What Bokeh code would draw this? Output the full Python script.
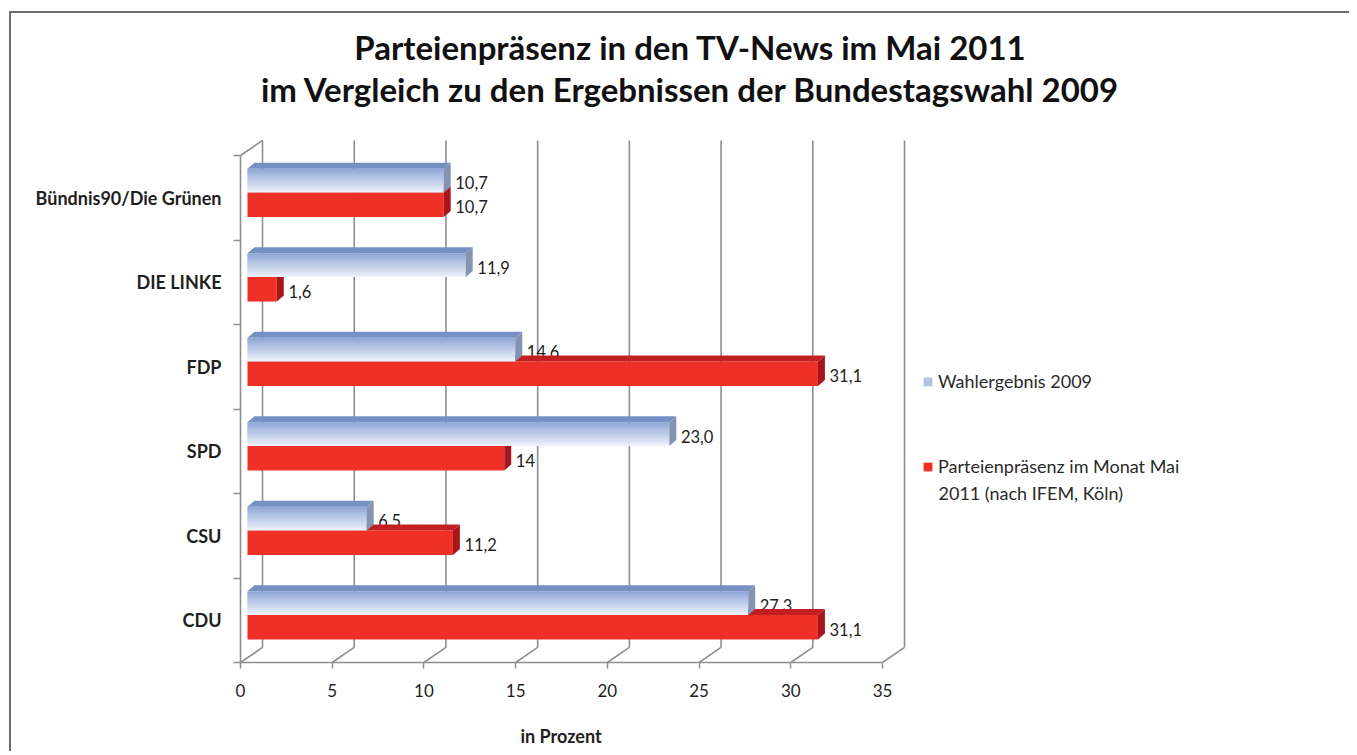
from bokeh.plotting import figure
from bokeh.models import Range1d, FixedTicker, Legend, LegendItem, ColumnDataSource, Label, Title
from bokeh.embed import file_html
from bokeh.resources import INLINE
from bokeh.core.properties import value

# ---------------- data ----------------
categories = ["CDU", "CSU", "SPD", "FDP", "DIE LINKE", "Bündnis90/Die Grünen"]
wahl_2009 = [27.3, 6.5, 23.0, 14.6, 11.9, 10.7]
praesenz_2011 = [31.1, 11.2, 14, 31.1, 1.6, 10.7]
wahl_labels = ["27,3", "6,5", "23,0", "14,6", "11,9", "10,7"]
praesenz_labels = ["31,1", "11,2", "14", "31,1", "1,6", "10,7"]
x_ticks = [0, 5, 10, 15, 20, 25, 30, 35]
title_lines = ["Parteienpräsenz in den TV-News im Mai 2011",
               "im Vergleich zu den Ergebnissen der Bundestagswahl 2009"]
x_title = "in Prozent"
legend_labels = ["Wahlergebnis 2009", "Parteienpräsenz im Monat Mai", "2011 (nach IFEM, Köln)"]

# ---------------- style / geometry ----------------
FONT = "Lato"
TXT = "#1e1e1e"
GRID = "#8e8e8e"
PX_X = 18.343          # px per percent
PX_Y = 84.5            # px per category band
W, H = 1340, 740
LEFT, TOP = 229, 1
FRAME_W = W - LEFT - 2
FRAME_H = 648
X_END = FRAME_W / PX_X
Y_END = FRAME_H / PX_Y
DEPTH_X, DEPTH_Y = 1.2, 0.178
BAR_DX, BAR_DY = 0.38, 0.071
RED_BOT, RED_TOP = 0.272, 0.562
BLUE_BOT, BLUE_TOP = 0.562, 0.842

def px_to_x(px):   # page px -> data x (frame left at page 240)
    return (px - 240) / PX_X

def px_to_y(py):   # page py -> data y (floor at page 662)
    return (662 - py) / PX_Y

p = figure(width=W, height=H, output_backend="svg", toolbar_location=None, title=None,
           x_range=Range1d(0, X_END), y_range=Range1d(0, Y_END),
           min_border_left=LEFT, min_border_right=2,
           min_border_top=TOP, min_border_bottom=H - TOP - FRAME_H,
           background_fill_color="white", border_fill_color="white")
p.margin = (11, 0, 0, 9)
p.styles = {"border-left": "2px solid #6e6e6e", "border-top": "2px solid #6e6e6e"}
p.outline_line_color = None
p.xgrid.visible = False
p.ygrid.visible = False

n = len(categories)

# x axis
xa = p.xaxis[0]
xa.ticker = FixedTicker(ticks=x_ticks)
xa.bounds = (x_ticks[0], x_ticks[-1])
xa.axis_line_color = GRID
xa.axis_line_width = 1.6
xa.major_tick_line_color = GRID
xa.major_tick_line_width = 1.5
xa.major_tick_out = 6
xa.major_tick_in = 0
xa.minor_tick_line_color = None
xa.major_label_standoff = 15
xa.major_label_text_font = FONT
xa.major_label_text_font_size = "17px"
xa.major_label_text_color = TXT
# blank spacer label: reserves room so that the axis title below sits at the right height
xa.axis_label = " "
xa.axis_label_standoff = 0
xa.axis_label_text_font = FONT
xa.axis_label_text_font_size = "15px"

# y axis (categories)
ya = p.yaxis[0]
ya.ticker = FixedTicker(ticks=[i + 0.5 for i in range(n)], minor_ticks=list(range(n + 1)))
ya.bounds = (0, n)
ya.major_label_overrides = {i + 0.5: c for i, c in enumerate(categories)}
ya.axis_line_color = GRID
ya.axis_line_width = 1.6
ya.major_tick_line_color = None
ya.minor_tick_line_color = GRID
ya.minor_tick_line_width = 1.5
ya.minor_tick_out = 7
ya.minor_tick_in = 0
ya.major_label_standoff = 12
ya.major_label_text_font = FONT
ya.major_label_text_font_style = "bold"
ya.major_label_text_font_size = "18px"
ya.major_label_text_color = TXT

# ---------------- walls ----------------
back = ColumnDataSource(dict(x0=[t + DEPTH_X for t in x_ticks], x1=[t + DEPTH_X for t in x_ticks],
                             y0=[DEPTH_Y] * len(x_ticks), y1=[n + DEPTH_Y] * len(x_ticks)))
p.segment("x0", "y0", "x1", "y1", source=back, line_color=GRID, line_width=1.6)
floor = ColumnDataSource(dict(x0=x_ticks, x1=[t + DEPTH_X for t in x_ticks],
                              y0=[0] * len(x_ticks), y1=[DEPTH_Y] * len(x_ticks)))
p.segment("x0", "y0", "x1", "y1", source=floor, line_color=GRID, line_width=1.6)
p.segment(x0=[0], y0=[n], x1=[DEPTH_X], y1=[n + DEPTH_Y], line_color=GRID, line_width=1.6)

# ---------------- value labels (blue) ----------------
lab_font = dict(text_font=value(FONT), text_font_size="16.5px", text_color=TXT,
                text_baseline="middle", text_align="left")
LAB_GAP = 0.25
p.text(x=[v + 2 * BAR_DX + LAB_GAP for v in wahl_2009],
       y=[i + (BLUE_BOT + BLUE_TOP) / 2 - 0.025 for i in range(n)],
       text=wahl_labels, **lab_font)

# ---------------- red bars ----------------
RED_FRONT, RED_SIDE, RED_TOPC = "#ee3026", "#a8161b", "#c41f20"
red_r = p.quad(left=[BAR_DX] * n, right=[BAR_DX + v for v in praesenz_2011],
               bottom=[i + RED_BOT for i in range(n)], top=[i + RED_TOP for i in range(n)],
               fill_color=RED_FRONT, line_color=None)
p.patches(xs=[[BAR_DX, BAR_DX + v, 2 * BAR_DX + v, 2 * BAR_DX] for v in praesenz_2011],
          ys=[[i + RED_TOP] * 2 + [i + RED_TOP + BAR_DY] * 2 for i in range(n)],
          fill_color=RED_TOPC, line_color=None)
p.patches(xs=[[BAR_DX + v, 2 * BAR_DX + v, 2 * BAR_DX + v, BAR_DX + v] for v in praesenz_2011],
          ys=[[i + RED_BOT, i + RED_BOT + BAR_DY, i + RED_TOP + BAR_DY, i + RED_TOP] for i in range(n)],
          fill_color=RED_SIDE, line_color=None)

# ---------------- blue bars (gradient front) ----------------
def mix(c1, c2, t):
    a = [int(c1[k:k + 2], 16) for k in (1, 3, 5)]
    b = [int(c2[k:k + 2], 16) for k in (1, 3, 5)]
    return "#%02x%02x%02x" % tuple(round(a[j] + (b[j] - a[j]) * t) for j in range(3))

TOP_C, BOT_C = "#8ea6d6", "#eef3fb"
NS = 14
hs = (BLUE_TOP - BLUE_BOT) / NS
blue_legend_r = None
for k in range(NS):
    col = mix(BOT_C, TOP_C, (k + 0.5) / NS)
    over = hs * 0.6 if k < NS - 1 else 0
    r = p.quad(left=[BAR_DX] * n, right=[BAR_DX + v for v in wahl_2009],
               bottom=[i + BLUE_BOT + k * hs for i in range(n)],
               top=[i + BLUE_BOT + (k + 1) * hs + over for i in range(n)],
               fill_color=col, line_color=None)
    if k == NS // 2 + 1:
        blue_legend_r = r
p.patches(xs=[[BAR_DX, BAR_DX + v, 2 * BAR_DX + v, 2 * BAR_DX] for v in wahl_2009],
          ys=[[i + BLUE_TOP] * 2 + [i + BLUE_TOP + BAR_DY] * 2 for i in range(n)],
          fill_color="#7790c4", line_color=None)
p.patches(xs=[[BAR_DX + v, 2 * BAR_DX + v, 2 * BAR_DX + v, BAR_DX + v] for v in wahl_2009],
          ys=[[i + BLUE_BOT, i + BLUE_BOT + BAR_DY, i + BLUE_TOP + BAR_DY, i + BLUE_TOP] for i in range(n)],
          fill_color="#8593b2", line_color=None)

# ---------------- value labels (red) ----------------
p.text(x=[v + 2 * BAR_DX + LAB_GAP for v in praesenz_2011],
       y=[i + (RED_BOT + RED_TOP) / 2 - 0.025 for i in range(n)],
       text=praesenz_labels, **lab_font)

# ---------------- titles ----------------
for line, py in zip(title_lines, [46, 88]):
    p.add_layout(Label(x=px_to_x(690), y=px_to_y(py), text=line, text_align="center",
                       text_baseline="middle", text_font=FONT, text_font_style="bold",
                       text_font_size="33px", text_color="#111111"))

# ---------------- legend ----------------
legend = Legend(items=[LegendItem(label=legend_labels[0], renderers=[blue_legend_r]),
                       LegendItem(label=legend_labels[1], renderers=[red_r])],
                location=(682, 185), orientation="vertical",
                glyph_width=11, glyph_height=11, label_standoff=5, spacing=63,
                padding=0, margin=0, border_line_color=None, background_fill_alpha=0,
                label_text_font=FONT, label_text_font_size="18px", label_text_color="#2a2a2a")
p.add_layout(legend, "center")
p.add_layout(Label(x=px_to_x(938), y=px_to_y(492), text=legend_labels[2], text_align="left",
                   text_baseline="middle", text_font=FONT, text_font_size="18px",
                   text_color="#2a2a2a"))

# ---------------- x-axis title, centred under the 0..35 axis ----------------
p.add_layout(Title(text=x_title, align="left", offset=280, standoff=4,
                   text_font=FONT, text_font_style="bold", text_font_size="18px",
                   text_color=TXT), "below")

open("out.html", "w").write(file_html(p, INLINE))
